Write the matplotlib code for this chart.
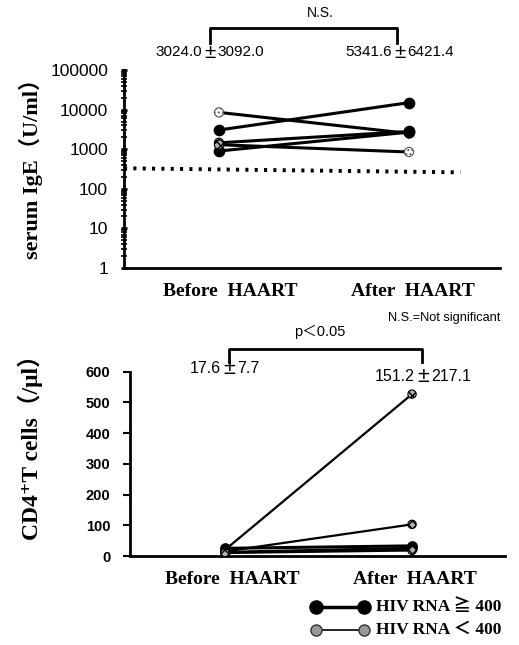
import matplotlib
matplotlib.use("Agg")
import matplotlib.pyplot as plt
from matplotlib.lines import Line2D

# ---------------- data ----------------
groups = ["Before  HAART", "After  HAART"]
ige_before = [8500, 3050, 1450, 900, 1300]
ige_after = [2500, 15000, 2800, 2700, 850]
ige_mark_before = ["open", "filled", "hatch", "filled", "hatch"]
ige_mark_after = ["hatch", "filled", "filled", "filled", "open"]
ige_cutoff = [330, 260]
ige_mean = ["3024.0", "5341.6"]
ige_sd = ["3092.0", "6421.4"]

cd4_before = [20, 15, 25, 12, 10]
cd4_after = [527, 103, 33, 25, 18]
cd4_mark_before = ["hatch", "hatch", "filled", "filled", "hatch"]
cd4_mark_after = ["hatch", "hatch", "filled", "filled", "hatch"]
cd4_mean = ["17.6", "151.2"]
cd4_sd = ["7.7", "217.1"]

ige_ticks = [1, 10, 100, 1000, 10000, 100000]
cd4_ticks = [0, 100, 200, 300, 400, 500, 600]

W, H = 519, 645
fig = plt.figure(figsize=(W / 100, H / 100), dpi=100)

SANS = ["Liberation Sans", "Noto Sans CJK JP", "DejaVu Sans"]
SERIF = ["Liberation Serif", "DejaVu Serif", "Noto Sans CJK JP"]


def rect(l, t, r, b):
    return [l / W, (H - b) / H, (r - l) / W, (b - t) / H]


def marker(ax, x, y, kind, size=55):
    if kind == "filled":
        ax.scatter([x], [y], s=size, c="black", edgecolors="black", zorder=5)
    elif kind == "hatch":
        ax.scatter([x], [y], s=size * 0.8, facecolors="#b0b0b0", edgecolors="black",
                   hatch="xxxx", linewidths=0.8, zorder=5)
    else:
        ax.scatter([x], [y], s=size * 0.8, facecolors="white", edgecolors="#555555",
                   hatch="....", linewidths=0.8, zorder=5)


def style(ax):
    for s in ["top", "right"]:
        ax.spines[s].set_visible(False)
    ax.spines["left"].set_linewidth(2)
    ax.spines["bottom"].set_linewidth(2)
    ax.tick_params(axis="x", length=0)
    ax.set_xticks([])


# ---------------- top panel ----------------
ax1 = fig.add_axes(rect(124, 70, 500, 268))
style(ax1)
ax1.set_yscale("log")
ax1.set_ylim(1, 100000)
ax1.set_xlim(0.5, 2.479)
ax1.set_yticks(ige_ticks)
ax1.set_yticklabels([str(t) for t in ige_ticks], fontfamily=SANS, fontsize=12.5)
ax1.tick_params(axis="y", which="major", length=5, width=2, direction="inout", pad=9)
ax1.tick_params(axis="y", which="minor", length=4, width=1.2, direction="inout")
for i in range(len(ige_before)):
    ax1.plot([1, 2], [ige_before[i], ige_after[i]], color="black", lw=2.2, zorder=3)
    marker(ax1, 1, ige_before[i], ige_mark_before[i])
    marker(ax1, 2, ige_after[i], ige_mark_after[i])
ax1.plot([0.5, 2.27], ige_cutoff, color="black", lw=2.8, ls=(0, (0.8, 1.6)), zorder=2)
ax1.set_ylabel("serum IgE\uff08U/ml\uff09", fontfamily=SERIF, fontweight="bold", fontsize=16)
ax1.yaxis.set_label_coords(-0.215, 0.53)

# ---------------- bottom panel ----------------
ax2 = fig.add_axes(rect(130, 371.7, 505, 556))
style(ax2)
ax2.set_ylim(0, 600)
ax2.set_xlim(0.492, 2.497)
ax2.set_yticks(cd4_ticks)
ax2.set_yticklabels([str(t) for t in cd4_ticks], fontfamily=SANS, fontsize=10.5, fontweight="bold")
ax2.tick_params(axis="y", length=5, width=1.5, direction="out", pad=9)
for i in range(len(cd4_before)):
    lw = 2.2 if cd4_mark_after[i] == "filled" else 1.6
    ax2.plot([1, 2], [cd4_before[i], cd4_after[i]], color="black", lw=lw, zorder=3)
    marker(ax2, 1, cd4_before[i], cd4_mark_before[i], size=45)
    marker(ax2, 2, cd4_after[i], cd4_mark_after[i], size=45)
ax2.set_ylabel("CD4\u207aT cells\uff08/\u03bcl\uff09", fontfamily=SERIF, fontweight="bold", fontsize=17)
ax2.yaxis.set_label_coords(-0.232, 0.62)


# ---------------- annotations (figure pixel coords) ----------------
def ftext(x, y, s, **kw):
    return fig.text(x / W, 1 - y / H, s, **kw)


def stat(xc, y, mean, sd, fs):
    # mean, wide plus-minus sign, sd
    half = fs * 100 / 72 * 0.5
    ftext(xc - half, y, mean, ha="right", va="center", fontfamily=SANS, fontsize=fs)
    ftext(xc, y, "\u00b1", ha="center", va="center", fontfamily=SANS, fontsize=fs * 1.35)
    ftext(xc + half, y, sd, ha="left", va="center", fontfamily=SANS, fontsize=fs)


def bracket(x1, x2, ytop, ybot, lw=2):
    fig.add_artist(Line2D([x1 / W, x1 / W, x2 / W, x2 / W],
                          [1 - ybot / H, 1 - ytop / H, 1 - ytop / H, 1 - ybot / H],
                          color="black", lw=lw))


bracket(210, 397, 28, 43)
ftext(320, 13, "N.S.", ha="center", va="center", fontfamily=SANS, fontsize=10)
stat(210, 52, ige_mean[0], ige_sd[0], 11)
stat(400, 52, ige_mean[1], ige_sd[1], 11)
ftext(230, 291, groups[0], ha="center", va="center", fontfamily=SERIF, fontweight="bold", fontsize=14)
ftext(413, 291, groups[1], ha="center", va="center", fontfamily=SERIF, fontweight="bold", fontsize=14)
ftext(500, 318, "N.S.=Not significant", ha="right", va="center", fontfamily=SANS, fontsize=9.2)

bracket(229, 422, 349, 362)
ftext(320, 332, "p\uff1c0.05", ha="center", va="center", fontfamily=SANS, fontsize=10.5)
stat(229, 369, cd4_mean[0], cd4_sd[0], 11.5)
stat(423, 377, cd4_mean[1], cd4_sd[1], 11.5)
ftext(232, 579, groups[0], ha="center", va="center", fontfamily=SERIF, fontweight="bold", fontsize=14)
ftext(415, 579, groups[1], ha="center", va="center", fontfamily=SERIF, fontweight="bold", fontsize=14)

# legend
lx1, lx2 = 316, 364
for (yy, kind, lw, lab) in [(607, "filled", 2.5, "HIV RNA \u2267 400"),
                            (630, "hatch", 1.2, "HIV RNA \uff1c 400")]:
    fig.add_artist(Line2D([lx1 / W, lx2 / W], [1 - yy / H, 1 - yy / H], color="black", lw=lw))
    if kind == "filled":
        fig.add_artist(Line2D([lx1 / W, lx2 / W], [1 - yy / H, 1 - yy / H], ls="none",
                              marker="o", ms=9.5, mfc="black", mec="black"))
    else:
        fig.add_artist(Line2D([lx1 / W, lx2 / W], [1 - yy / H, 1 - yy / H], ls="none",
                              marker="o", ms=8, mfc="#999999", mec="#333333"))
    ftext(376, yy, lab, ha="left", va="center", fontfamily=SERIF, fontweight="bold", fontsize=12.5)

fig.savefig("out.png", dpi=100)
